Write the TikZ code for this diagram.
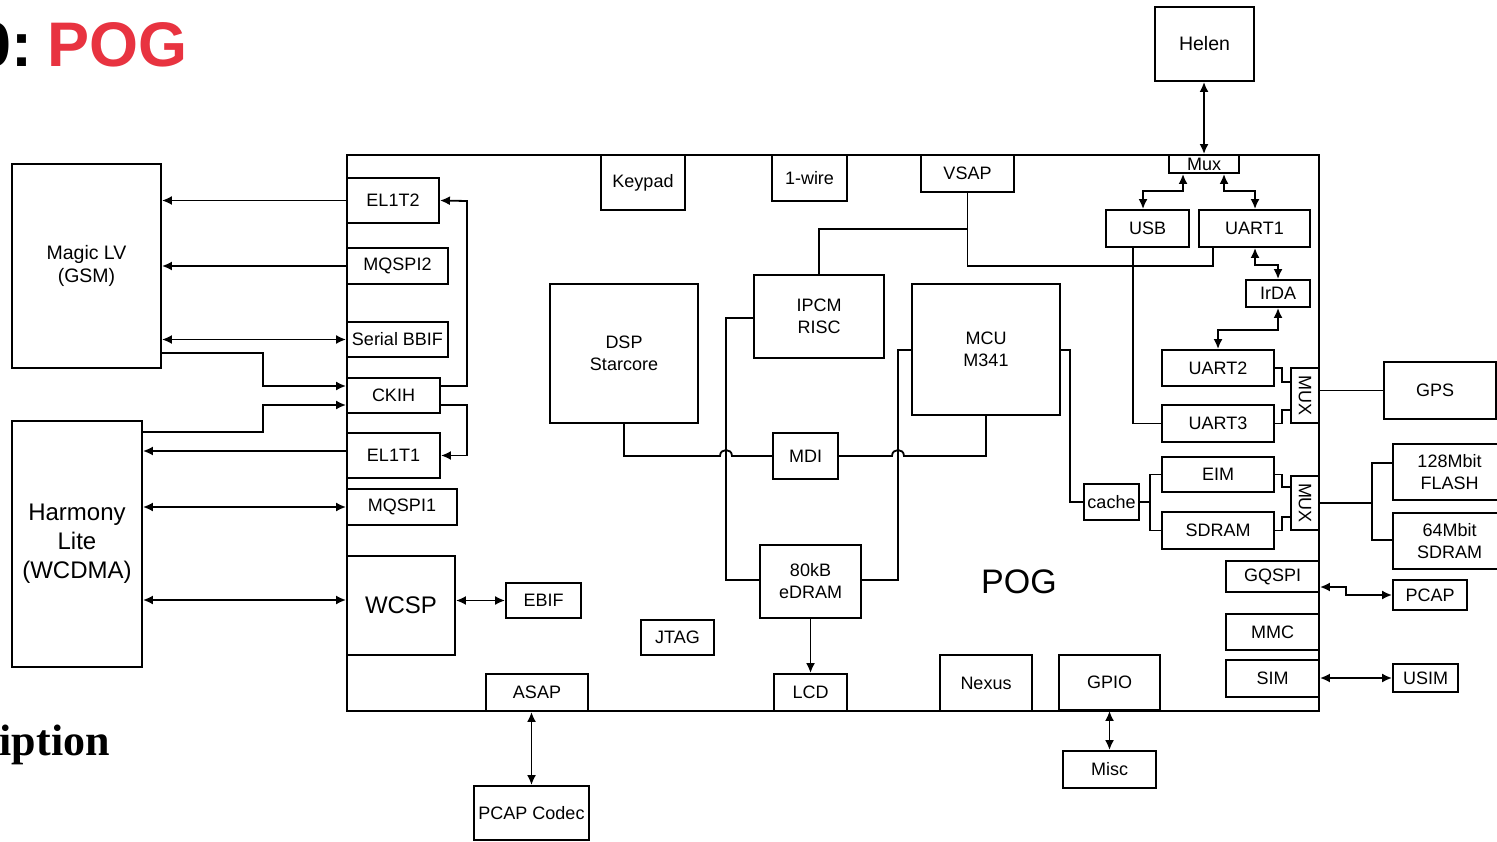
\documentclass[tikz,border=0pt]{standalone}
\usepackage{fontspec}
\setmainfont{Liberation Sans}
\newfontfamily\titleserif{Liberation Serif}
\usetikzlibrary{arrows.meta}
\definecolor{pogred}{RGB}{232,51,64}
\newcommand\bx[7]{\node[box,#1,minimum width={#5-#3},minimum height={#6-#4}] (#2) at ({(#3+#5)/2},{(#4+#6)/2}) {#7};}
\begin{document}
\begin{tikzpicture}[x=1pt,y=-1pt,
  box/.style={draw,line width=1.9pt,inner sep=0pt,align=center,font=\fontsize{18}{22}\selectfont},
  big/.style={font=\fontsize{24}{29}\selectfont},
  mid/.style={font=\fontsize{19.5}{23}\selectfont},
  wire/.style={line width=1.8pt},
  arr/.style={wire,-{Latex[length=10pt,width=9pt]}},
  darr/.style={wire,{Latex[length=10pt,width=9pt]}-{Latex[length=10pt,width=9pt]}},
]
\useasboundingbox (0,0) rectangle (1497,842);
% titles
\node[anchor=base west,inner sep=0pt,font=\fontsize{63}{70}\selectfont\bfseries] (title) at (-23.5,67) {0:\hspace{14.5pt}\textcolor{pogred}{POG}};
\node[anchor=base east,inner sep=0pt,font=\fontsize{44}{50}\selectfont\titleserif\bfseries] (desc) at (110,755) {Description};
% main box
\bx{}{pog}{347}{155}{1319}{711}{}
\node[font=\fontsize{34}{40}\selectfont] (poglabel) at (1019,582) {POG};
% external
\bx{mid}{magic}{12}{164}{161}{368}{Magic LV\\(GSM)}
\bx{big}{harmony}{12}{421}{142}{667}{Harmony\\Lite\\(WCDMA)}
\bx{mid}{helen}{1155}{7}{1254}{81}{Helen}
\bx{}{gps}{1384}{362}{1496}{419}{}
\node[font=\fontsize{18}{22}\selectfont] (gpst) at (1435,390.5) {GPS};
\bx{}{flash}{1393}{444}{1506}{500}{128Mbit\\FLASH}
\bx{}{sdram64}{1393}{513}{1506}{569}{64Mbit\\SDRAM}
\bx{}{pcap}{1393}{580}{1467}{610}{PCAP}
\bx{}{usim}{1393}{664}{1458}{692}{USIM}
\bx{}{misc}{1063}{751}{1156}{788}{Misc}
\bx{}{codec}{474}{786}{589}{840}{PCAP Codec}
% internal
\bx{}{mux}{1169}{155}{1239}{173}{Mux}
\bx{}{usb}{1106}{210}{1189}{247}{USB}
\bx{}{uart1}{1199}{210}{1310}{247}{UART1}
\bx{}{irda}{1246}{280}{1310}{307}{IrDA}
\bx{}{uart2}{1162}{350}{1274}{386}{UART2}
\bx{}{uart3}{1162}{405}{1274}{442}{UART3}
\bx{}{muxu}{1291}{368}{1319}{423}{}
\node[rotate=-90,font=\fontsize{18}{22}\selectfont] (muxut) at (muxu) {MUX};
\bx{}{eim}{1162}{457}{1274}{492}{EIM}
\bx{}{sdram}{1162}{512}{1274}{549}{SDRAM}
\bx{}{muxl}{1291}{476}{1319}{530}{}
\node[rotate=-90,font=\fontsize{18}{22}\selectfont] (muxlt) at (muxl) {MUX};
\bx{}{cache}{1084}{484}{1139}{520}{cache}
\bx{}{gqspi}{1226}{561}{1319}{592}{GQSPI}
\bx{}{mmc}{1226}{614}{1319}{650}{MMC}
\bx{}{sim}{1226}{660}{1319}{697}{SIM}
\bx{}{gpio}{1059}{655}{1160}{710}{GPIO}
\bx{}{nexus}{940}{655}{1032}{711}{Nexus}
\bx{}{lcd}{774}{674}{847}{711}{LCD}
\bx{}{asap}{486}{674}{588}{711}{ASAP}
\bx{}{jtag}{641}{620}{714}{655}{JTAG}
\bx{}{edram}{760}{545}{861}{618}{80kB\\eDRAM}
\bx{}{mdi}{773}{433}{838}{479}{MDI}
\bx{}{dsp}{550}{284}{698}{423}{DSP\\Starcore}
\bx{}{ipcm}{754}{275}{884}{358}{IPCM\\RISC}
\bx{}{mcu}{912}{284}{1060}{415}{MCU\\M341}
\bx{}{keypad}{601}{155}{685}{210}{Keypad}
\bx{}{onewire}{772}{155}{847}{201}{1-wire}
\bx{}{vsap}{921}{155}{1014}{192}{VSAP}
\bx{}{el1t2}{347}{178}{439}{223}{EL1T2}
\bx{}{mqspi2}{347}{248}{448}{284}{MQSPI2}
\bx{}{bbif}{347}{322}{448}{357}{Serial BBIF}
\bx{}{ckih}{347}{378}{440}{413}{CKIH}
\bx{}{el1t1}{347}{433}{440}{478}{EL1T1}
\bx{}{mqspi1}{347}{489}{457}{525}{MQSPI1}
\bx{big}{wcsp}{347}{556}{455}{655}{WCSP}
\bx{}{ebif}{506}{583}{581}{618}{EBIF}
% left connectors
\draw[arr] (el1t2.west) -- (el1t2.west -| magic.east);
\draw[arr] (mqspi2.west) -- (mqspi2.west -| magic.east);
\draw[darr] (bbif.west) -- (bbif.west -| magic.east);
\draw[arr] (magic.east |- 0,353) -| (263,386) -- (ckih.west |- 0,386);
\draw[arr] (harmony.east |- 0,432) -| (263,405) -- (ckih.west |- 0,405);
\draw[arr] (ckih.east |- 0,386) -| (467,201) -- (el1t2.east);
\draw[arr] (ckih.east |- 0,405) -| (467,455.5) -- (el1t1.east);
\draw[arr] (el1t1.west |- 0,451) -- (harmony.east |- 0,451);
\draw[darr] (mqspi1.west) -- (mqspi1.west -| harmony.east);
\draw[darr] (wcsp.west |- 0,600) -- (harmony.east |- 0,600);
\draw[darr] (wcsp.east |- ebif.west) -- (ebif.west);
% top right
\draw[darr] (helen.south -| mux.north) -- (mux.north);
\draw[darr] (mux.south -| 1183,0) |- (1143,191) -- (usb.north -| 1143,0);
\draw[darr] (mux.south -| 1224,0) |- (1255,191) -- (uart1.north -| 1255,0);
\draw[darr] (uart1.south -| 1255,0) |- (1278,265) -- (irda.north);
\draw[darr] (irda.south) |- (1218,330) -- (uart2.north);
\draw[wire] (vsap.south) |- (1213,266) -- (uart1.south -| 1213,0);
\draw[wire] (vsap.south |- 0,229) -| (ipcm.north);
\draw[wire] (usb.south -| 1133,0) |- (uart3.west);
% muxes
\draw[wire] (uart2.east) -| (1282,382) -- (muxu.west |- 0,382);
\draw[wire] (uart3.east) -| (1282,410) -- (muxu.west |- 0,410);
\draw[wire] (muxu.east |- gps.west) -- (gps.west);
\draw[wire] (eim.east) -| (1282,487) -- (muxl.west |- 0,487);
\draw[wire] (sdram.east) -| (1282,517) -- (muxl.west |- 0,517);
\draw[wire] (eim.west) -- (1150,474.5) -- (1150,530.5) -- (sdram.west);
\draw[wire] (cache.east) -- (1150,502);
\draw[wire] (muxl.east) -- (1372,503);
\draw[wire] (flash.west |- 0,463) -| (1372,540) -- (sdram64.west |- 0,540);
% core buses
\draw[wire] (mcu.east |- 0,350) -| (1070,502) -- (cache.west);
\draw[wire] (mcu.west |- 0,350) -| (898,580) -- (edram.east |- 0,580);
\draw[wire] (ipcm.west |- 0,318) -| (726,580) -- (edram.west |- 0,580);
\draw[wire] (dsp.south) |- (720,456) .. controls (720,448) and (732,448) .. (732,456) -- (mdi.west);
\draw[wire] (mdi.east) -- (892,456) .. controls (892,448) and (904,448) .. (904,456) -| (mcu.south);
\draw[arr] (edram.south) -- (lcd.north);
% right side
\draw[darr] (gqspi.east |- 0,587) -| (1346,595) -- (pcap.west);
\draw[darr] (sim.east |- usim.west) -- (usim.west);
% bottom
\draw[darr] (asap.south -| codec.north) -- (codec.north);
\draw[darr] (gpio.south) -- (misc.north);
\end{tikzpicture}
\end{document}
